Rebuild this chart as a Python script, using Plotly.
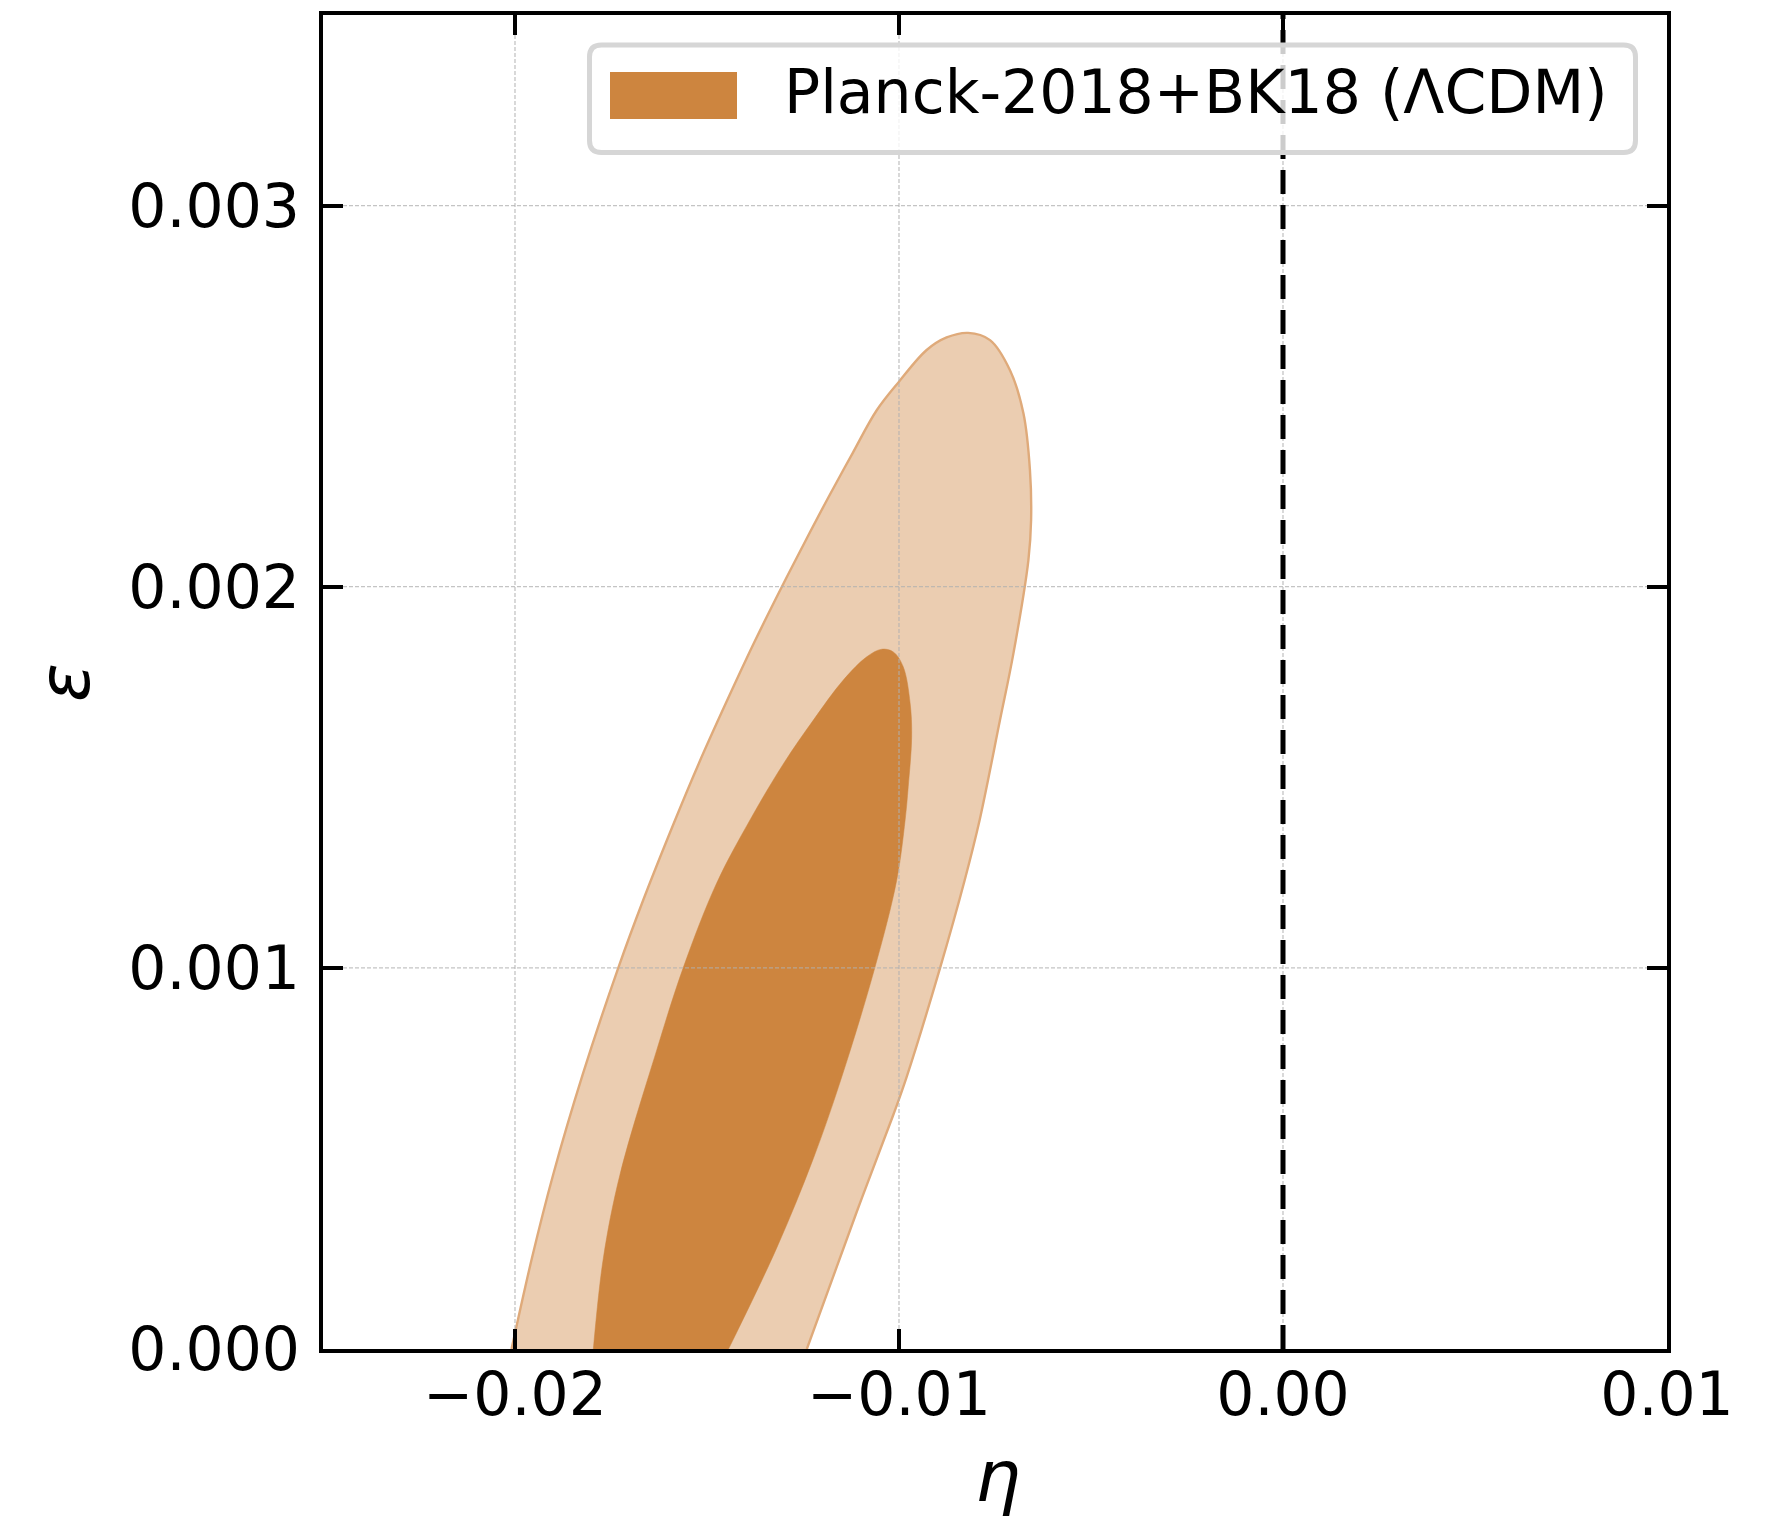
import plotly.graph_objects as go

# 2D posterior of the slow-roll parameters (eta, epsilon), truncated at epsilon = 0
# outer (95%) region boundary: up the left edge, over the top, down the right edge
eta_95 = [-0.02009, -0.01956, -0.01901, -0.01824, -0.01731, -0.01666, -0.01583, -0.01521,
          -0.01451, -0.01374, -0.01305, -0.01238, -0.01183, -0.01121, -0.01058, -0.01000,
          -0.00928, -0.00876, -0.00820, -0.00763, -0.00711, -0.00676, -0.00659, -0.00656,
          -0.00663, -0.00702, -0.00737, -0.00790, -0.00829, -0.00893, -0.00980,
          -0.01015, -0.01110, -0.01240]
eps_95 = [0.0, 0.000238, 0.000456, 0.000719, 0.001000, 0.001178, 0.001388, 0.001537,
          0.001694, 0.001860, 0.002000, 0.002131, 0.002236, 0.002350, 0.002463, 0.002538,
          0.002621, 0.002654, 0.002666, 0.002647, 0.002568, 0.002455, 0.002306, 0.002175,
          0.002070, 0.001825, 0.001650, 0.001388, 0.001230, 0.001000, 0.000714,
          0.000614, 0.000360, 0.0]

# inner (68%) region boundary
eta_68 = [-0.01796, -0.01770, -0.01727, -0.01631, -0.01562, -0.01475, -0.01388, -0.01300,
          -0.01223, -0.01145, -0.01084, -0.01045, -0.01015, -0.00989, -0.00971, -0.00967,
          -0.00976, -0.00984, -0.01006, -0.01063, -0.01149, -0.01223, -0.01319, -0.01444]
eps_68 = [0.0, 0.000238, 0.000456, 0.000784, 0.001000, 0.001222, 0.001388, 0.001537,
          0.001650, 0.001755, 0.001816, 0.001836, 0.001829, 0.001790, 0.001694, 0.001606,
          0.001475, 0.001388, 0.001230, 0.001000, 0.000714, 0.000500, 0.000264, 0.0]

x_ticks = [-0.02, -0.01, 0.00, 0.01]
y_ticks = [0.000, 0.001, 0.002, 0.003]
x_range = [-0.025, 0.01]
y_range = [0.0, 0.0035]
reference_eta = 0.0
legend_label = "Planck-2018+BK18 (ΛCDM)"

PERU = "#CD853F"
PERU_LIGHT = "#EBCDB1"
PERU_EDGE = "#DFAA7A"

W, H = 1784, 1519
ML, MR, MT, MB = 323, 117, 15, 170
PW, PH = W - ML - MR, H - MT - MB


def px_to_paper(x, y):
    return (x - ML) / PW, (H - MB - y) / PH


fig = go.Figure()

fig.add_trace(go.Scatter(
    x=eta_95, y=eps_95, mode="lines", fill="toself",
    fillcolor=PERU_LIGHT,
    line=dict(color=PERU_EDGE, width=2.4, shape="spline", smoothing=1.0, simplify=False),
    hoverinfo="skip", name="95%",
))
fig.add_trace(go.Scatter(
    x=eta_68, y=eps_68, mode="lines", fill="toself",
    fillcolor=PERU,
    line=dict(color=PERU, width=0.5, shape="spline", smoothing=1.0, simplify=False),
    hoverinfo="skip", name=legend_label,
))

shapes = []
tick_len_x = 20 / PW
tick_len_y = 20 / PH
grid_style = dict(color="rgba(176,176,176,0.75)", width=1.3, dash="4px,2px")

# grid drawn over the filled regions
for xv in x_ticks[:-1]:
    shapes.append(dict(type="line", xref="x", yref="paper", x0=xv, x1=xv,
                       y0=tick_len_y, y1=1 - tick_len_y, line=grid_style, layer="above"))
for yv in y_ticks[1:]:
    shapes.append(dict(type="line", xref="paper", yref="y", x0=tick_len_x, x1=1 - tick_len_x,
                       y0=yv, y1=yv, line=grid_style, layer="above"))

# dashed reference line at eta = 0
shapes.append(dict(type="line", xref="x", yref="paper", x0=reference_eta, x1=reference_eta,
                   y0=0, y1=1, line=dict(color="black", width=5, dash="24px,11px"),
                   layer="above"))

# legend frame (rounded) and patch
bx0, by0, bx1, by1, r = 589.5, 45.0, 1635.5, 152.5, 12.0


def rounded_rect_path(x0, y0, x1, y1, rad):
    pts = {
        "a": px_to_paper(x0 + rad, y0), "b": px_to_paper(x1 - rad, y0),
        "c": px_to_paper(x1, y0), "d": px_to_paper(x1, y0 + rad),
        "e": px_to_paper(x1, y1 - rad), "f": px_to_paper(x1, y1),
        "g": px_to_paper(x1 - rad, y1), "h": px_to_paper(x0 + rad, y1),
        "i": px_to_paper(x0, y1), "j": px_to_paper(x0, y1 - rad),
        "k": px_to_paper(x0, y0 + rad), "l": px_to_paper(x0, y0),
    }
    f = lambda p: f"{p[0]:.6f},{p[1]:.6f}"
    return (f"M {f(pts['a'])} L {f(pts['b'])} Q {f(pts['c'])} {f(pts['d'])} "
            f"L {f(pts['e'])} Q {f(pts['f'])} {f(pts['g'])} L {f(pts['h'])} "
            f"Q {f(pts['i'])} {f(pts['j'])} L {f(pts['k'])} Q {f(pts['l'])} {f(pts['a'])} Z")


shapes.append(dict(type="path", xref="paper", yref="paper",
                   path=rounded_rect_path(bx0, by0, bx1, by1, r),
                   fillcolor="rgba(255,255,255,0.8)",
                   line=dict(color="#D6D6D6", width=5), layer="above"))
sx0, sy0 = px_to_paper(610, 119)
sx1, sy1 = px_to_paper(737, 72)
shapes.append(dict(type="rect", xref="paper", yref="paper", x0=sx0, x1=sx1, y0=sy0, y1=sy1,
                   fillcolor=PERU, line=dict(width=0), layer="above"))

lx, ly = px_to_paper(782, 92)
ex, ey = px_to_paper(998, 1476)
yx, yy = px_to_paper(64, 683)
annotations = [
    dict(text=legend_label, xref="paper", yref="paper", x=lx, y=ly,
         xanchor="left", yanchor="middle", showarrow=False,
         font=dict(family="DejaVu Sans", size=60, color="black")),
    dict(text="<i>η</i>", xref="paper", yref="paper", x=ex, y=ey,
         xanchor="center", yanchor="middle", showarrow=False,
         font=dict(family="DejaVu Sans", size=72, color="black")),
    dict(text="<i>ε</i>", xref="paper", yref="paper", x=yx, y=yy, textangle=-90,
         xanchor="center", yanchor="middle", showarrow=False,
         font=dict(family="DejaVu Sans", size=72, color="black")),
]

axis_common = dict(
    ticks="inside", ticklen=20, tickwidth=4, tickcolor="black",
    showline=True, linewidth=4, linecolor="black", mirror="ticks",
    showgrid=False, zeroline=False, layer="above traces",
    tickfont=dict(family="DejaVu Sans", size=60, color="black"),
)

fig.update_xaxes(range=x_range, tickvals=x_ticks, tickformat=".2f",
                 ticklabelstandoff=-10, **axis_common)
fig.update_yaxes(range=y_range, tickvals=y_ticks, tickformat=".3f",
                 ticklabelstandoff=7, **axis_common)

fig.update_layout(
    width=W, height=H,
    margin=dict(l=ML, r=MR, t=MT, b=MB, pad=0),
    plot_bgcolor="white", paper_bgcolor="white",
    showlegend=False,
    font=dict(family="DejaVu Sans", size=60, color="black"),
    shapes=shapes, annotations=annotations,
)

fig.write_html("out.html")
